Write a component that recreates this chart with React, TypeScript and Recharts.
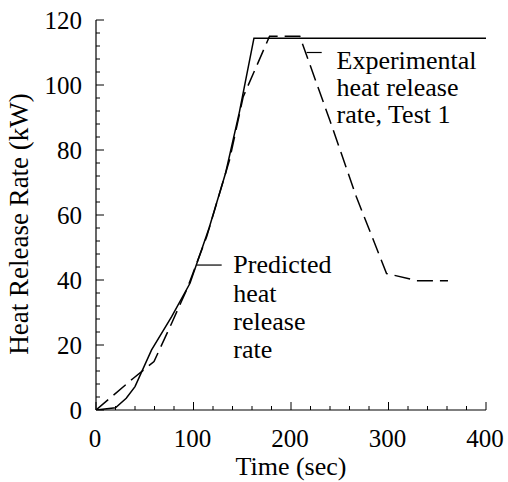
import React from 'react';
import { LineChart, Line, XAxis, YAxis, ReferenceLine, ReferenceDot } from 'recharts';

// Predicted heat release rate (solid)
const predictedTime = [0, 20, 31, 40, 57, 77.6, 96.4, 116, 133, 147, 162, 400];
const predictedHRR = [0, 0.7, 3.6, 7.2, 18.5, 28.7, 39, 56, 73, 91.6, 114.4, 114.4];

// Experimental heat release rate, Test 1 (dashed)
const experimentalTime = [0, 38, 59.5, 77.6, 93, 113.5, 137, 151, 178, 209, 240, 267, 298, 329, 361];
const experimentalHRR = [0, 9.7, 14.9, 26.7, 37, 53.3, 77, 96.4, 115, 115, 89, 65.6, 42, 39.8, 39.8];

// Axes
const xDomain: [number, number] = [0, 400];
const yDomain: [number, number] = [0, 120];
const xMajorTicks = [0, 100, 200, 300, 400];
const yMajorTicks = [0, 20, 40, 60, 80, 100, 120];
const xMinorStep = 20;
const yMinorStep = 4;
const xTitle = 'Time (sec)';
const yTitle = 'Heat Release Rate (kW)';

// Annotations
const expLabel = ['Experimental', 'heat release', 'rate, Test 1'];
const predLabel = ['Predicted', 'heat', 'release', 'rate'];

const xAllTicks: number[] = [];
for (let v = xDomain[0]; v <= xDomain[1]; v += xMinorStep) xAllTicks.push(v);
const yAllTicks: number[] = [];
for (let v = yDomain[0]; v <= yDomain[1]; v += yMinorStep) yAllTicks.push(v);

const predictedData = predictedTime.map((t, i) => ({ t, v: predictedHRR[i] }));
const experimentalData = experimentalTime.map((t, i) => ({ t, v: experimentalHRR[i] }));

const FONT_STYLE = { fontFamily: 'Liberation Serif' };
const MAJ = 8;
const MIN = 4;

const isXMajor = (v: number) => xMajorTicks.includes(v);
const isYMajor = (v: number) => yMajorTicks.includes(v);

const BottomTick = (p: any) => {
  const { x, y, payload } = p;
  const v = payload.value;
  const major = isXMajor(v);
  return (
    <g>
      <line x1={x} x2={x} y1={y} y2={y - (major ? MAJ : MIN)} stroke="#000" strokeWidth={1} />
      {major && (
        <text x={x - 1} y={y + 36.5} textAnchor="middle" fontSize={25} style={FONT_STYLE} fill="#000">
          {v}
        </text>
      )}
    </g>
  );
};

const TopTick = (p: any) => {
  const { x, y, payload } = p;
  const major = isXMajor(payload.value);
  return <line x1={x} x2={x} y1={y} y2={y + (major ? MAJ : MIN)} stroke="#000" strokeWidth={1} />;
};

const LeftTick = (p: any) => {
  const { x, y, payload } = p;
  const v = payload.value;
  const major = isYMajor(v);
  return (
    <g>
      <line x1={x} x2={x + (major ? MAJ : MIN)} y1={y} y2={y} stroke="#000" strokeWidth={1} />
      {major && (
        <text x={x - 14} y={y + 8.5} textAnchor="end" fontSize={25} style={FONT_STYLE} fill="#000">
          {v}
        </text>
      )}
    </g>
  );
};

const RightTick = (p: any) => {
  const { x, y, payload } = p;
  const major = isYMajor(payload.value);
  return <line x1={x} x2={x - (major ? MAJ : MIN)} y1={y} y2={y} stroke="#000" strokeWidth={1} />;
};

const multiLine = (lines: string[], step: number) => (props: any) => {
  const vb = props.viewBox || {};
  const x = vb.x + (vb.width || 0) / 2;
  const y = vb.y + (vb.height || 0) / 2;
  return (
    <text x={x} y={y} fontSize={26} style={FONT_STYLE} fill="#000" textAnchor="start">
      {lines.map((l, i) => (
        <tspan key={i} x={x} y={y + i * step}>
          {l}
        </tspan>
      ))}
    </text>
  );
};

const XTitle = (props: any) => {
  const vb = props.viewBox;
  return (
    <text x={vb.x + vb.width / 2} y={vb.y + 65} textAnchor="middle" fontSize={26} style={FONT_STYLE} fill="#000">
      {xTitle}
    </text>
  );
};

const YTitle = (props: any) => {
  const vb = props.viewBox;
  const cx = vb.x - 7.7;
  const cy = vb.y + vb.height / 2 + 9;
  return (
    <text
      x={cx}
      y={cy}
      transform={`rotate(-90 ${cx} ${cy})`}
      textAnchor="middle"
      fontSize={27}
      style={FONT_STYLE}
      fill="#000"
    >
      {yTitle}
    </text>
  );
};

export default function App() {
  return (
    <div style={{ position: 'absolute', left: 0, top: 0, width: 508, height: 482 }}>
      <LineChart width={508} height={482} margin={{ top: 20, right: 22, bottom: 32, left: 36 }} style={FONT_STYLE}>
        <XAxis
          dataKey="t"
          type="number"
          domain={xDomain}
          ticks={xAllTicks}
          interval={0}
          allowDataOverflow
          tickSize={0}
          tickMargin={0}
          tickLine={false}
          tick={<BottomTick />}
          axisLine={{ stroke: '#000', strokeWidth: 1.2 }}
          height={40}
          label={<XTitle />}
        />
        <XAxis
          xAxisId="top"
          orientation="top"
          type="number"
          domain={xDomain}
          ticks={xAllTicks}
          interval={0}
          allowDataOverflow
          tickSize={0}
          tickMargin={0}
          tickLine={false}
          tick={<TopTick />}
          axisLine={{ stroke: '#000', strokeWidth: 1.2 }}
          height={0}
        />
        <YAxis
          type="number"
          domain={yDomain}
          ticks={yAllTicks}
          interval={0}
          allowDataOverflow
          tickSize={0}
          tickMargin={0}
          tickLine={false}
          tick={<LeftTick />}
          axisLine={{ stroke: '#000', strokeWidth: 1.2 }}
          width={60}
          label={<YTitle />}
        />
        <YAxis
          yAxisId="right"
          orientation="right"
          type="number"
          domain={yDomain}
          ticks={yAllTicks}
          interval={0}
          allowDataOverflow
          tickSize={0}
          tickMargin={0}
          tickLine={false}
          tick={<RightTick />}
          axisLine={{ stroke: '#000', strokeWidth: 1.2 }}
          width={0}
        />
        <Line
          data={predictedData}
          dataKey="v"
          type="linear"
          stroke="#000"
          strokeWidth={1.5}
          dot={false}
          isAnimationActive={false}
        />
        <Line
          data={experimentalData}
          dataKey="v"
          type="linear"
          stroke="#000"
          strokeWidth={1.5}
          strokeDasharray="16 7"
          dot={false}
          isAnimationActive={false}
        />
        <ReferenceLine segment={[{ x: 216, y: 110 }, { x: 231.5, y: 110 }]} stroke="#000" strokeWidth={1.2} />
        <ReferenceLine segment={[{ x: 103.3, y: 44.6 }, { x: 128.9, y: 44.6 }]} stroke="#000" strokeWidth={1.2} />
        <ReferenceDot x={246.7} y={104.8} r={0} fill="none" stroke="none" label={{ content: multiLine(expLabel, 27) }} />
        <ReferenceDot x={140.8} y={42.06} r={0} fill="none" stroke="none" label={{ content: multiLine(predLabel, 28.3) }} />
      </LineChart>
    </div>
  );
}
